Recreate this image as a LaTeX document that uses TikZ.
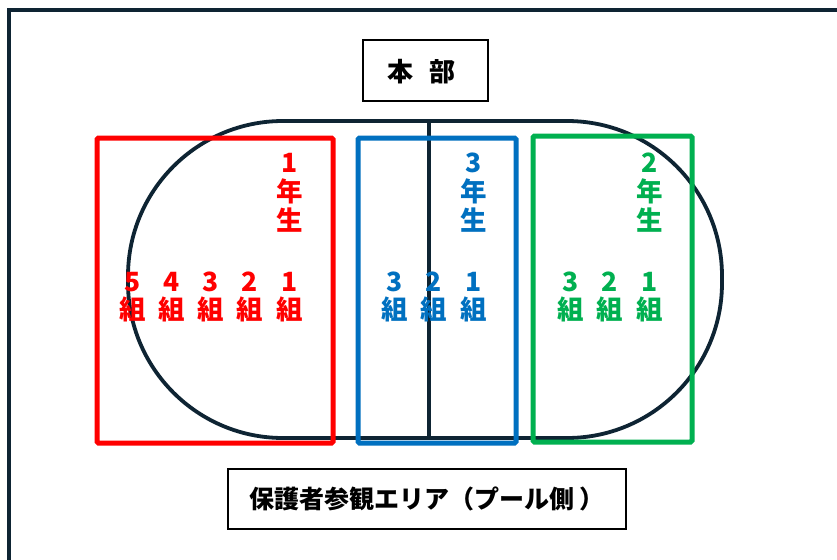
\documentclass[tikz,border=0pt]{standalone}
\usepackage{fontspec}
\newfontfamily\jp{Noto Sans CJK JP Black}
\definecolor{navy}{HTML}{0E2433}
\definecolor{rred}{HTML}{FF0000}
\definecolor{bblue}{HTML}{0070C0}
\definecolor{ggreen}{HTML}{00B050}
\tikzset{
  frameline/.style={draw=navy, line width=3.8pt},
  trackline/.style={draw=navy, line width=3.8pt},
  zone/.style={line width=5pt, rounded corners=1.5pt},
  labelbox/.style={draw=black, line width=1.6pt, inner sep=0pt},
  cls/.style={font=\jp\fontsize{26.5}{28}\selectfont, align=center, inner sep=0pt},
  grade/.style={font=\jp\fontsize{26.5}{29}\selectfont, align=center, inner sep=0pt},
}
\begin{document}
\begin{tikzpicture}[x=1pt,y=-1pt]
\useasboundingbox (0,0) rectangle (837,559);
\fill[white] (0,0) rectangle (837,559);
% outer frame
\coordinate (fbl) at (9,575);
\coordinate (ftl) at (9,10);
\coordinate (ftr) at (850,10);
\draw[frameline] (fbl) -- (ftl) -- (ftr);
% headquarters
\node[labelbox, minimum width=125pt, minimum height=61pt] (hq) at (425.5,70.5) {};
\node[font=\jp\fontsize{26}{26}\selectfont] (hqt) at (421.5,72) {本\hspace{0.65em}部};
% track
\draw[trackline, rounded corners=155pt] (128,121) rectangle (722,438);
\coordinate (vt) at (429,121);
\coordinate (vb) at (429,438);
\draw[trackline] (vt) -- (vb);
% zones
\draw[zone, rred] (97,138) rectangle (333,443);
\draw[zone, bblue] (358,138) rectangle (516,443);
\draw[zone, ggreen] (533,136) rectangle (692,442);
% grade labels
\node[grade, text=rred] (g1) at (290,193) {1\\年\\生};
\node[grade, text=bblue] (g3) at (474,193) {3\\年\\生};
\node[grade, text=ggreen] (g2) at (650,193) {2\\年\\生};
% class labels
\foreach \n/\x in {5/133,4/172,3/211,2/250,1/290}
  \node[cls, text=rred] (r\n) at (\x,297) {\n\\組};
\foreach \n/\x in {3/395,2/434,1/474}
  \node[cls, text=bblue] (b\n) at (\x,297) {\n\\組};
\foreach \n/\x in {3/571,2/610,1/650}
  \node[cls, text=ggreen] (e\n) at (\x,297) {\n\\組};
% bottom label
\node[labelbox, minimum width=398pt, minimum height=60pt] (pa) at (427,499) {};
\node[font=\jp\fontsize{25}{25}\selectfont] (pat) at (427,499) {保護者参観エリア（プール側 ）};
\end{tikzpicture}
\end{document}
